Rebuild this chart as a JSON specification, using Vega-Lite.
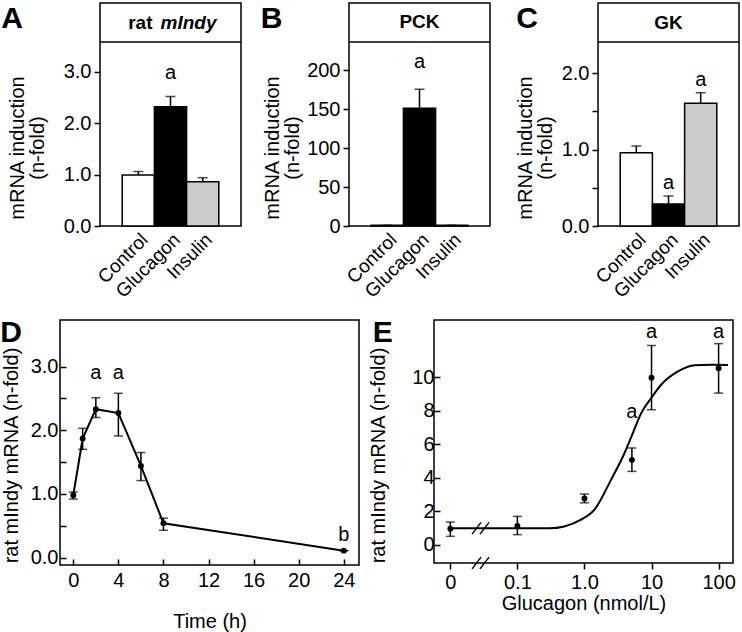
{
  "$schema": "https://vega.github.io/schema/vega-lite/v6.json",
  "padding": {"left": -16, "top": -7, "right": 4, "bottom": 4},
  "config": {
    "font": "Liberation Sans",
    "view": {"stroke": "black", "strokeWidth": 1.5},
    "axis": {"domain": false, "grid": false, "tickColor": "black", "tickWidth": 1.5, "tickSize": 6, "labelColor": "black", "labelFontSize": 20, "titleFontSize": 20, "titleFontWeight": "normal", "titleColor": "black", "labelPadding": 3},
    "title": {"fontSize": 30, "fontWeight": "bold", "anchor": "start", "frame": "bounds", "baseline": "top", "color": "black"},
    "text": {"fontSize": 20, "color": "black"}
  },
  "datasets": {
    "barsA": [
      {"group": "Control", "value": 0.99, "hi": 1.06},
      {"group": "Glucagon", "value": 2.32, "hi": 2.52},
      {"group": "Insulin", "value": 0.86, "hi": 0.94}
    ],
    "sigA": [{"group": "Glucagon", "y": 2.98, "label": "a"}],
    "barsB": [
      {"group": "Control", "value": 1, "hi": 1},
      {"group": "Glucagon", "value": 150.9, "hi": 175.3},
      {"group": "Insulin", "value": 1, "hi": 1}
    ],
    "sigB": [{"group": "Glucagon", "y": 210.6, "label": "a"}],
    "barsC": [
      {"group": "Control", "value": 0.96, "hi": 1.048},
      {"group": "Glucagon", "value": 0.288, "hi": 0.393},
      {"group": "Insulin", "value": 1.607, "hi": 1.746}
    ],
    "sigC": [
      {"group": "Glucagon", "y": 0.567, "label": "a"},
      {"group": "Insulin", "y": 1.912, "label": "a"}
    ],
    "timecourse": [
      {"t": 0, "mean": 0.98, "lo": 0.92, "hi": 1.03},
      {"t": 0.83, "mean": 1.87, "lo": 1.7, "hi": 2.03},
      {"t": 2, "mean": 2.33, "lo": 2.2, "hi": 2.51},
      {"t": 4, "mean": 2.27, "lo": 1.91, "hi": 2.58},
      {"t": 6, "mean": 1.44, "lo": 1.21, "hi": 1.65},
      {"t": 8, "mean": 0.54, "lo": 0.43, "hi": 0.62},
      {"t": 24, "mean": 0.11, "lo": 0.11, "hi": 0.11}
    ],
    "sigD": [
      {"t": 2, "y": 2.9, "label": "a"},
      {"t": 4, "y": 2.9, "label": "a"},
      {"t": 24, "y": 0.36, "label": "b"}
    ],
    "dose": [
      {"dose": 0.01, "mean": 0.95, "lo": 0.5, "hi": 1.35},
      {"dose": 0.1, "mean": 1.12, "lo": 0.6, "hi": 1.69},
      {"dose": 1, "mean": 2.76, "lo": 2.5, "hi": 3.02},
      {"dose": 5.1, "mean": 5.06, "lo": 4.37, "hi": 5.77},
      {"dose": 10, "mean": 9.96, "lo": 8.05, "hi": 11.88},
      {"dose": 100, "mean": 10.53, "lo": 9.04, "hi": 11.99}
    ],
    "fit": [
      {"dose": 0.01, "fit": 0.98},
      {"dose": 0.1, "fit": 0.98},
      {"dose": 0.3, "fit": 0.98},
      {"dose": 0.5, "fit": 1.09},
      {"dose": 0.89, "fit": 1.49},
      {"dose": 1.41, "fit": 2.09},
      {"dose": 2.5, "fit": 3.88},
      {"dose": 3.96, "fit": 5.47},
      {"dose": 5.27, "fit": 6.66},
      {"dose": 7.02, "fit": 7.85},
      {"dose": 9.9, "fit": 8.75},
      {"dose": 13.9, "fit": 9.54},
      {"dose": 24.8, "fit": 10.33},
      {"dose": 44, "fit": 10.7},
      {"dose": 78, "fit": 10.73},
      {"dose": 138, "fit": 10.72}
    ],
    "sigE": [
      {"dose": 5.1, "y": 7.9, "label": "a"},
      {"dose": 10, "y": 12.7, "label": "a"},
      {"dose": 100, "y": 12.7, "label": "a"}
    ]
  },
  "spacing": 8,
  "vconcat": [
    {
      "bounds": "flush",
      "spacing": 108,
      "hconcat": [
        {"width": 8, "height": 1, "view": {"stroke": null}, "data": {"values": [{}]}, "mark": "text", "encoding": {"text": {"value": ""}}},
        {
          "width": 141, "height": 223,
          "title": {"text": "A", "offset": -31, "dx": -6},
          "layer": [
            {
              "data": {"name": "barsA"},
              "encoding": {"x": {"field": "group", "type": "nominal", "sort": ["Control", "Glucagon", "Insulin"], "scale": {"paddingInner": 0, "paddingOuter": 0.69}, "axis": {"title": null, "labelAngle": -45, "ticks": false, "labelFontSize": 19, "labelAlign": "right", "labelBaseline": "top", "labelPadding": 4}}},
              "layer": [
                {"mark": {"type": "bar", "stroke": "black", "strokeWidth": 1.5}, "encoding": {"y": {"field": "value", "type": "quantitative", "scale": {"domain": [0, 4.339], "nice": false, "zero": false}, "axis": {"values": [0, 0.5, 1, 1.5, 2, 2.5, 3], "labelExpr": "datum.value % 1 === 0 ? format(datum.value, '.1f') : ''", "title": ["mRNA induction", "(n-fold)"], "titleY": 144.5, "titlePadding": 16, "titleLineHeight": 20}}, "fill": {"field": "group", "type": "nominal", "scale": {"domain": ["Control", "Glucagon", "Insulin"], "range": ["white", "black", "#cccccc"]}, "legend": null}}},
                {"mark": {"type": "rule", "strokeWidth": 1.5, "color": "black"}, "encoding": {"y": {"field": "value", "type": "quantitative"}, "y2": {"field": "hi"}}},
                {"mark": {"type": "tick", "size": 10, "thickness": 1.5, "color": "black", "orient": "horizontal"}, "encoding": {"y": {"field": "hi", "type": "quantitative"}}}
              ]
            },
            {"data": {"name": "sigA"}, "mark": {"type": "text"}, "encoding": {"x": {"field": "group", "type": "nominal"}, "y": {"field": "y", "type": "quantitative"}, "text": {"field": "label"}}},
            {"data": {"values": [{}]}, "mark": {"type": "rule", "strokeWidth": 1.5, "color": "black"}, "encoding": {"y": {"datum": 3.58}}},
            {"data": {"values": [{}]}, "mark": {"type": "text", "fontWeight": "bold", "fontSize": 19, "align": "right", "dx": -18}, "encoding": {"y": {"datum": 3.959}, "text": {"value": "rat"}}},
            {"data": {"values": [{}]}, "mark": {"type": "text", "fontWeight": "bold", "fontStyle": "italic", "fontSize": 19, "align": "left", "dx": -10}, "encoding": {"y": {"datum": 3.959}, "text": {"value": "mIndy"}}}
          ]
        },
        {
          "width": 141, "height": 223,
          "title": {"text": "B", "offset": -31, "dx": -2},
          "layer": [
            {
              "data": {"name": "barsB"},
              "encoding": {"x": {"field": "group", "type": "nominal", "sort": ["Control", "Glucagon", "Insulin"], "scale": {"paddingInner": 0, "paddingOuter": 0.69}, "axis": {"title": null, "labelAngle": -45, "ticks": false, "labelFontSize": 19, "labelAlign": "right", "labelBaseline": "top", "labelPadding": 4}}},
              "layer": [
                {"mark": {"type": "bar", "stroke": "black", "strokeWidth": 1.5}, "encoding": {"y": {"field": "value", "type": "quantitative", "scale": {"domain": [0, 285.9], "nice": false, "zero": false}, "axis": {"values": [0, 50, 100, 150, 200], "format": "d", "title": ["mRNA induction", "(n-fold)"], "titleY": 144.5, "titlePadding": 4, "titleLineHeight": 20}}, "fill": {"field": "group", "type": "nominal", "scale": {"domain": ["Control", "Glucagon", "Insulin"], "range": ["white", "black", "#cccccc"]}, "legend": null}}},
                {"mark": {"type": "rule", "strokeWidth": 1.5, "color": "black"}, "encoding": {"y": {"field": "value", "type": "quantitative"}, "y2": {"field": "hi"}}},
                {"mark": {"type": "tick", "size": 10, "thickness": 1.5, "color": "black", "orient": "horizontal"}, "encoding": {"y": {"field": "hi", "type": "quantitative"}}}
              ]
            },
            {"data": {"name": "sigB"}, "mark": {"type": "text"}, "encoding": {"x": {"field": "group", "type": "nominal"}, "y": {"field": "y", "type": "quantitative"}, "text": {"field": "label"}}},
            {"data": {"values": [{}]}, "mark": {"type": "rule", "strokeWidth": 1.5, "color": "black"}, "encoding": {"y": {"datum": 235.9}}},
            {"data": {"values": [{}]}, "mark": {"type": "text", "fontWeight": "bold", "fontSize": 19}, "encoding": {"y": {"datum": 260.9}, "text": {"value": "PCK"}}}
          ]
        },
        {
          "width": 141, "height": 223,
          "title": {"text": "C", "offset": -31, "dx": 1},
          "layer": [
            {
              "data": {"name": "barsC"},
              "encoding": {"x": {"field": "group", "type": "nominal", "sort": ["Control", "Glucagon", "Insulin"], "scale": {"paddingInner": 0, "paddingOuter": 0.69}, "axis": {"title": null, "labelAngle": -45, "ticks": false, "labelFontSize": 19, "labelAlign": "right", "labelBaseline": "top", "labelPadding": 4}}},
              "layer": [
                {"mark": {"type": "bar", "stroke": "black", "strokeWidth": 1.5}, "encoding": {"y": {"field": "value", "type": "quantitative", "scale": {"domain": [0, 2.921], "nice": false, "zero": false}, "axis": {"values": [0, 0.5, 1, 1.5, 2], "labelExpr": "datum.value % 1 === 0 ? format(datum.value, '.1f') : ''", "title": ["mRNA induction", "(n-fold)"], "titleY": 144.5, "titlePadding": 6, "titleLineHeight": 20}}, "fill": {"field": "group", "type": "nominal", "scale": {"domain": ["Control", "Glucagon", "Insulin"], "range": ["white", "black", "#cccccc"]}, "legend": null}}},
                {"mark": {"type": "rule", "strokeWidth": 1.5, "color": "black"}, "encoding": {"y": {"field": "value", "type": "quantitative"}, "y2": {"field": "hi"}}},
                {"mark": {"type": "tick", "size": 10, "thickness": 1.5, "color": "black", "orient": "horizontal"}, "encoding": {"y": {"field": "hi", "type": "quantitative"}}}
              ]
            },
            {"data": {"name": "sigC"}, "mark": {"type": "text"}, "encoding": {"x": {"field": "group", "type": "nominal"}, "y": {"field": "y", "type": "quantitative"}, "text": {"field": "label"}}},
            {"data": {"values": [{}]}, "mark": {"type": "rule", "strokeWidth": 1.5, "color": "black"}, "encoding": {"y": {"datum": 2.41}}},
            {"data": {"values": [{}]}, "mark": {"type": "text", "fontWeight": "bold", "fontSize": 19}, "encoding": {"y": {"datum": 2.665}, "text": {"value": "GK"}}}
          ]
        }
      ]
    },
    {
      "bounds": "flush",
      "spacing": 75,
      "hconcat": [
        {"width": 1, "height": 1, "view": {"stroke": null}, "data": {"values": [{}]}, "mark": "text", "encoding": {"text": {"value": ""}}},
        {
          "width": 299, "height": 245,
          "title": {"text": "D", "offset": -28, "dx": -1},
          "layer": [
            {
              "data": {"name": "timecourse"},
              "layer": [
                {"mark": {"type": "line", "color": "black", "strokeWidth": 2}, "encoding": {"x": {"field": "t", "type": "quantitative", "scale": {"domain": [-1.18, 25.35], "nice": false, "zero": false}, "axis": {"values": [0, 4, 8, 12, 16, 20, 24], "title": "Time (h)", "tickSize": -6, "labelPadding": 11, "titlePadding": 21}}, "y": {"field": "mean", "type": "quantitative", "scale": {"domain": [-0.115, 3.73], "nice": false, "zero": false}, "axis": {"values": [0, 0.5, 1, 1.5, 2, 2.5, 3], "labelExpr": "datum.value % 1 === 0 ? format(datum.value, '.1f') : ''", "title": "rat mIndy mRNA (n-fold)", "tickSize": -6, "labelPadding": 8, "titlePadding": 9, "titleY": 135}}}},
                {"mark": {"type": "point", "filled": true, "color": "black", "size": 35, "opacity": 1}, "encoding": {"x": {"field": "t", "type": "quantitative"}, "y": {"field": "mean", "type": "quantitative"}}},
                {"mark": {"type": "rule", "strokeWidth": 1.5, "color": "black"}, "encoding": {"x": {"field": "t", "type": "quantitative"}, "y": {"field": "lo", "type": "quantitative"}, "y2": {"field": "hi"}}},
                {"mark": {"type": "tick", "orient": "horizontal", "size": 9, "thickness": 1.5, "color": "black"}, "encoding": {"x": {"field": "t", "type": "quantitative"}, "y": {"field": "lo", "type": "quantitative"}}},
                {"mark": {"type": "tick", "orient": "horizontal", "size": 9, "thickness": 1.5, "color": "black"}, "encoding": {"x": {"field": "t", "type": "quantitative"}, "y": {"field": "hi", "type": "quantitative"}}}
              ]
            },
            {"data": {"name": "sigD"}, "mark": {"type": "text"}, "encoding": {"x": {"field": "t", "type": "quantitative"}, "y": {"field": "y", "type": "quantitative"}, "text": {"field": "label"}}}
          ]
        },
        {
          "width": 299, "height": 243,
          "title": {"text": "E", "offset": -28, "dx": 4},
          "layer": [
            {"data": {"name": "fit"}, "mark": {"type": "line", "color": "black", "strokeWidth": 2, "interpolate": "monotone"}, "encoding": {"x": {"field": "dose", "type": "quantitative", "scale": {"type": "log", "domain": [0.00571, 164], "nice": false}, "axis": {"values": [0.01, 0.1, 1, 10, 100], "labelExpr": "datum.value < 0.05 ? '0' : datum.value < 0.5 ? '0.1' : datum.value < 5 ? '1.0' : datum.value < 50 ? '10' : '100'", "title": "Glucagon (nmol/L)", "tickSize": 6, "labelPadding": 3, "titlePadding": 1}}, "y": {"field": "fit", "type": "quantitative", "scale": {"domain": [-1.09, 13.4], "nice": false, "zero": false}, "axis": {"values": [0, 2, 4, 6, 8, 10], "title": "rat mIndy mRNA (n-fold)", "tickSize": -6, "labelPadding": 6, "titlePadding": 23, "titleY": 135}}}},
            {
              "data": {"name": "dose"},
              "layer": [
                {"mark": {"type": "point", "filled": true, "color": "black", "size": 35, "opacity": 1}, "encoding": {"x": {"field": "dose", "type": "quantitative"}, "y": {"field": "mean", "type": "quantitative"}}},
                {"mark": {"type": "rule", "strokeWidth": 1.5, "color": "black"}, "encoding": {"x": {"field": "dose", "type": "quantitative"}, "y": {"field": "lo", "type": "quantitative"}, "y2": {"field": "hi"}}},
                {"mark": {"type": "tick", "orient": "horizontal", "size": 9, "thickness": 1.5, "color": "black"}, "encoding": {"x": {"field": "dose", "type": "quantitative"}, "y": {"field": "lo", "type": "quantitative"}}},
                {"mark": {"type": "tick", "orient": "horizontal", "size": 9, "thickness": 1.5, "color": "black"}, "encoding": {"x": {"field": "dose", "type": "quantitative"}, "y": {"field": "hi", "type": "quantitative"}}}
              ]
            },
            {"data": {"name": "sigE"}, "mark": {"type": "text"}, "encoding": {"x": {"field": "dose", "type": "quantitative"}, "y": {"field": "y", "type": "quantitative"}, "text": {"field": "label"}}},
            {"data": {"values": [{}]}, "mark": {"type": "rule", "strokeWidth": 1.5, "color": "black"}, "encoding": {"x": {"datum": 0.0211}, "x2": {"datum": 0.0287}, "y": {"datum": 0.63}, "y2": {"datum": 1.33}}},
            {"data": {"values": [{}]}, "mark": {"type": "rule", "strokeWidth": 1.5, "color": "black"}, "encoding": {"x": {"datum": 0.0277}, "x2": {"datum": 0.0378}, "y": {"datum": 0.63}, "y2": {"datum": 1.33}}},
            {"data": {"values": [{}]}, "mark": {"type": "rule", "strokeWidth": 1.5, "color": "black"}, "encoding": {"x": {"datum": 0.0211}, "x2": {"datum": 0.0287}, "y": {"datum": -1.44}, "y2": {"datum": -0.74}}},
            {"data": {"values": [{}]}, "mark": {"type": "rule", "strokeWidth": 1.5, "color": "black"}, "encoding": {"x": {"datum": 0.0277}, "x2": {"datum": 0.0378}, "y": {"datum": -1.44}, "y2": {"datum": -0.74}}}
          ]
        }
      ]
    }
  ]
}
